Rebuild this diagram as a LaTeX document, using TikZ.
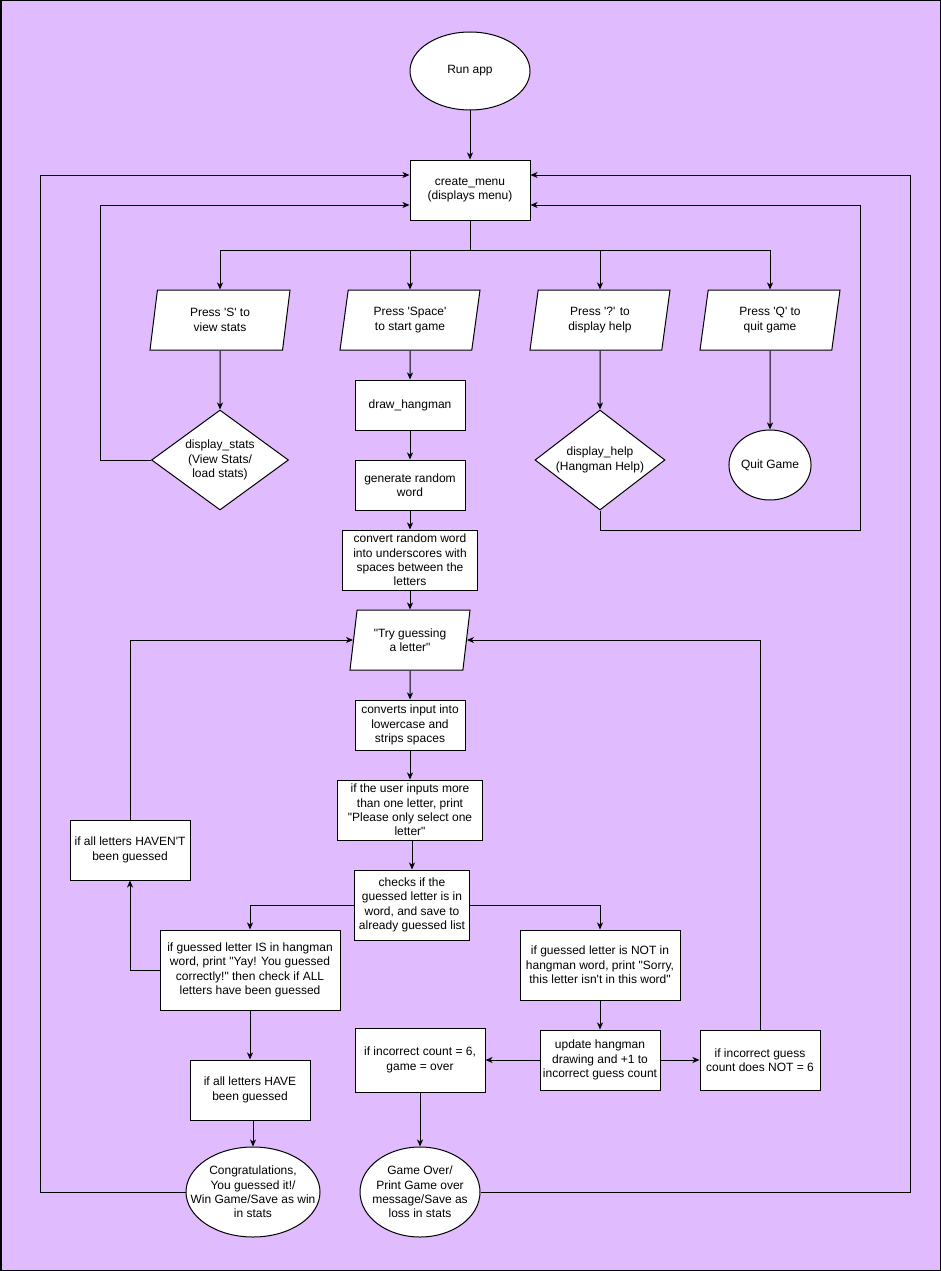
\documentclass[tikz,border=0pt]{standalone}
\usepackage{fontspec}
\newfontfamily\flowfont{Liberation Sans}
\usetikzlibrary{shapes.geometric,arrows.meta}
\definecolor{canvas}{RGB}{224,187,254}
\begin{document}
\begin{tikzpicture}[x=1pt,y=-1pt,
  every node/.style={font=\flowfont\fontsize{12}{14.4}\selectfont, align=center, inner sep=0pt},
  box/.style={draw, fill=white, line width=1pt, rectangle},
  iobox/.style={draw, fill=white, line width=1pt, trapezium, trapezium left angle=72,
    trapezium right angle=108, trapezium stretches body, minimum height=60pt},
  decbox/.style={draw, fill=white, line width=1pt, diamond},
  termbox/.style={draw, fill=white, line width=1pt, ellipse},
  flow/.style={line width=1pt, -{Stealth[length=7pt,width=6pt,inset=2pt]}},
  plain/.style={line width=1pt}]

% canvas
\draw[fill=canvas, line width=1.5pt] (0.75,0.75) rectangle (940.25,1270.25);
\useasboundingbox (0,0) rectangle (941,1271);

% menu section
\node[termbox, minimum width=120pt, minimum height=78pt] (run) at (470,71) {Run app};
\node[box, minimum width=120pt, minimum height=60pt] (menu) at (470,190) {create\_menu\\(displays menu)};
\coordinate (bus) at (470,250);

\node[iobox, minimum width=140pt] (pS) at (220,320) {Press 'S' to\\view stats};
\node[iobox, minimum width=140pt] (pSp) at (410,320) {Press 'Space'\\to start game};
\node[iobox, minimum width=140pt] (pH) at (600,320) {Press '?' to\\display help};
\node[iobox, minimum width=140pt] (pQ) at (770,320) {Press 'Q' to\\quit game};

\node[decbox, aspect=1.37, minimum width=137pt, minimum height=100pt] (stats) at (220,460) {display\_stats\\(View Stats/\\load stats)};
\node[decbox, aspect=1.3, minimum width=130pt, minimum height=100pt] (help) at (600,460) {display\_help\\(Hangman Help)};
\node[termbox, minimum width=80pt, minimum height=70pt] (quit) at (770,465) {Quit Game};

% game set-up
\node[box, minimum width=110pt, minimum height=50pt] (draw) at (410,405) {draw\_hangman};
\node[box, minimum width=110pt, minimum height=50pt] (gen) at (410,485) {generate random\\word};
\node[box, minimum width=135pt, minimum height=60pt] (conv) at (410,560) {convert random word\\into underscores with\\spaces between the\\letters};

% guessing loop
\node[iobox, trapezium left angle=73, trapezium right angle=107, minimum width=120pt] (try) at (410,640) {"Try guessing\\a letter"};
\node[box, minimum width=110pt, minimum height=50pt] (lower) at (410,725) {converts input into\\lowercase and\\strips spaces};
\node[box, minimum width=145pt, minimum height=60pt] (single) at (410,810) {if the user inputs more\\than one letter, print\\"Please only select one\\letter"};
\node[box, minimum width=115pt, minimum height=70pt] (check) at (412,905) {checks if the\\guessed letter is in\\word, and save to\\already guessed list};
\node[box, minimum width=120pt, minimum height=60pt] (havent) at (130,850) {if all letters HAVEN'T\\been guessed};
\node[box, minimum width=180pt, minimum height=80pt] (hit) at (250,970) {if guessed letter IS in hangman\\word, print "Yay! You guessed\\correctly!" then check if ALL\\letters have been guessed};
\node[box, minimum width=160pt, minimum height=70pt] (miss) at (600,965) {if guessed letter is NOT in\\hangman word, print "Sorry,\\this letter isn't in this word"};
\node[box, minimum width=120pt, minimum height=60pt] (update) at (600,1060) {update hangman\\drawing and +1 to\\incorrect guess count};
\node[box, minimum width=130pt, minimum height=64pt] (six) at (420,1060) {if incorrect count = 6,\\game = over};
\node[box, minimum width=120pt, minimum height=60pt] (notsix) at (760,1060) {if incorrect guess\\count does NOT = 6};
\node[box, minimum width=120pt, minimum height=60pt] (have) at (250,1090) {if all letters HAVE\\been guessed};

% end states
\node[termbox, minimum width=134pt, minimum height=90pt] (win) at (253,1192) {};
\node (wintext) at (win) {Congratulations,\\You guessed it!/\\Win Game/Save as win\\in stats};
\node[termbox, minimum width=120pt, minimum height=90pt] (lose) at (420,1192) {};
\node (losetext) at (lose) {Game Over/\\Print Game over\\message/Save as\\loss in stats};

% loop corners
\coordinate (xS) at (100,0);
\coordinate (xL) at (40,0);
\coordinate (xR) at (910,0);
\coordinate (hc) at (860,530);

% connectors: menu
\draw[flow] (run) -- (menu);
\draw[flow] (menu.south) -- (bus) -| (pS.north);
\draw[flow] (menu.south) -- (bus) -| (pSp.north);
\draw[flow] (menu.south) -- (bus) -| (pH.north);
\draw[flow] (menu.south) -- (bus) -| (pQ.north);
\draw[flow] (pS) -- (stats);
\draw[flow] (pH) -- (help);
\draw[flow] (pQ) -- (quit);
\draw[flow] (stats.west) -- (stats.west -| xS) |- ([yshift=-15pt]menu.west);
\draw[flow] (help.south) |- (hc) |- ([yshift=-15pt]menu.east);

% connectors: game
\draw[flow] (pSp) -- (draw);
\draw[flow] (draw) -- (gen);
\draw[flow] (gen) -- (conv);
\draw[flow] (conv) -- (try);
\draw[flow] (try) -- (lower);
\draw[flow] (lower) -- (single);
\draw[flow] (single.south -| check) -- (check);
\draw[flow] (check.west) -| (hit.north);
\draw[flow] (check.east) -| (miss.north);
\draw[flow] (hit.west) -| (havent.south);
\draw[flow] (havent.north) |- (try.west);
\draw[flow] (miss) -- (update);
\draw[flow] (update) -- (six);
\draw[flow] (update) -- (notsix);
\draw[flow] (notsix.north) |- (try.east);
\draw[flow] (hit) -- (have);
\draw[flow] (have.south -| win) -- (win);
\draw[flow] (six) -- (lose);
\draw[flow] (win.west) -- (win.west -| xL) |- ([yshift=15pt]menu.west);
\draw[flow] (lose.east) -- (lose.east -| xR) |- ([yshift=15pt]menu.east);
\end{tikzpicture}
\end{document}
